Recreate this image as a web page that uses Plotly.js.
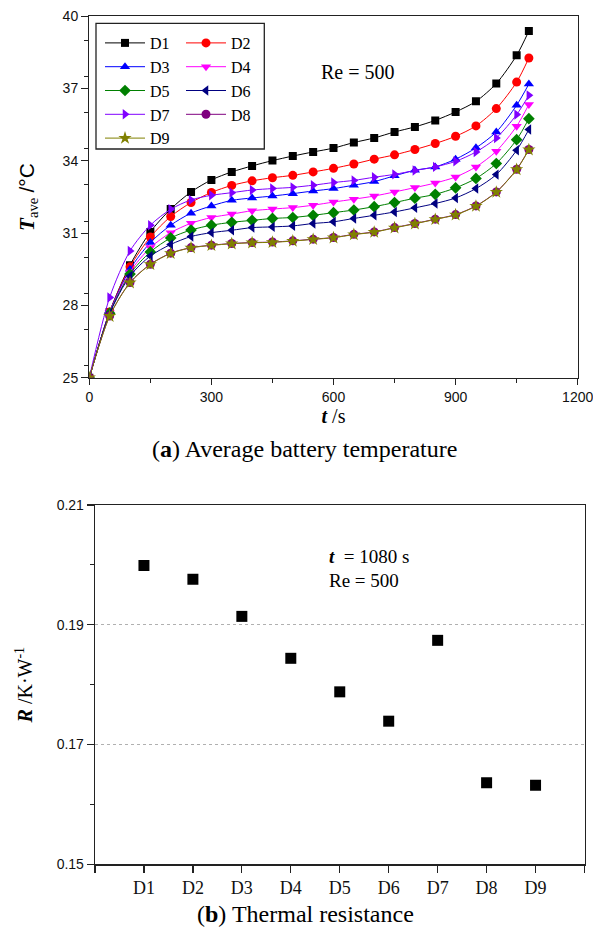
<!DOCTYPE html>
<html><head><meta charset="utf-8">
<script src="https://cdn.plot.ly/plotly-3.0.1.min.js"></script>
<style>html,body{margin:0;padding:0;background:#fff}#chart{width:593px;height:938px}</style>
</head><body><div id="chart"></div>
<script>
// ---- data: average battery temperature (Re = 500) ----
const timeS = [0,50,100,150,200,250,300,350,400,450,500,550,600,650,700,750,800,850,900,950,1000,1050,1080];
const tD1 = [25,27.73,29.67,31.05,32.00,32.71,33.21,33.54,33.79,34.01,34.20,34.37,34.53,34.76,34.95,35.20,35.41,35.68,36.03,36.47,37.21,38.38,39.39];
const tD2 = [25,27.73,29.60,30.84,31.69,32.27,32.69,32.98,33.17,33.30,33.40,33.54,33.69,33.87,34.07,34.25,34.47,34.72,35.02,35.45,36.17,37.27,38.27];
const tD3 = [25,27.72,29.50,30.61,31.33,31.83,32.13,32.36,32.46,32.54,32.64,32.75,32.85,32.99,33.14,33.38,33.61,33.75,34.07,34.54,35.20,36.31,37.19];
const tD4 = [25,27.70,29.39,30.40,31.02,31.41,31.65,31.79,31.93,32.00,32.06,32.16,32.29,32.41,32.54,32.71,32.89,33.08,33.33,33.75,34.40,35.44,36.34];
const tD5 = [25,27.68,29.30,30.22,30.80,31.13,31.33,31.45,31.53,31.61,31.65,31.74,31.85,31.96,32.10,32.27,32.45,32.61,32.88,33.27,33.89,34.88,35.75];
const tD6 = [25,27.66,29.22,30.05,30.53,30.86,31.02,31.12,31.23,31.26,31.30,31.40,31.47,31.61,31.74,31.88,32.05,32.23,32.46,32.85,33.43,34.44,35.30];
const tD7 = [25,28.33,30.26,31.33,31.99,32.38,32.57,32.68,32.79,32.85,32.90,32.99,33.10,33.19,33.32,33.44,33.60,33.75,33.98,34.37,34.95,35.92,36.72];
const tD8 = [25,27.56,28.95,29.71,30.17,30.40,30.50,30.57,30.61,30.63,30.68,30.75,30.82,30.95,31.05,31.23,31.40,31.58,31.77,32.13,32.71,33.65,34.47];
const tD9 = [25,27.55,28.94,29.70,30.16,30.39,30.49,30.56,30.60,30.62,30.67,30.74,30.81,30.94,31.04,31.22,31.39,31.57,31.76,32.12,32.70,33.64,34.46];
const seriesNames = ['D1','D2','D3','D4','D5','D6','D7','D8','D9'];
const seriesValues = [tD1,tD2,tD3,tD4,tD5,tD6,tD7,tD8,tD9];

// ---- data: thermal resistance at t = 1080 s ----
const designs = ['D1','D2','D3','D4','D5','D6','D7','D8','D9'];
const resistance = [0.1999,0.1976,0.1914,0.1844,0.1788,0.1739,0.1874,0.1636,0.1632];

// ---- tick labels ----
const xTicksA = [0,300,600,900,1200];
const yTicksA = [25,28,31,34,37,40];
const yTicksB = [0.15,0.17,0.19,0.21];

// ---- styles ----
const colors = ['#000000','#ff0000','#0000ff','#ff00ff','#008000','#000080','#8000ff','#800080','#808000'];
const symbols = ['square','circle','triangle-up','triangle-down','diamond','triangle-left','triangle-right','circle','star'];
const msizes = [8,9,9,9,9,9,9,9,10];
const SANS = 'Liberation Sans, Arial, sans-serif';
const SERIF = 'Liberation Serif, Times New Roman, serif';

const traces = seriesValues.map((vals, i) => ({
  type: 'scatter', mode: 'lines+markers',
  x: timeS, y: vals, name: seriesNames[i],
  xaxis: 'x', yaxis: 'y',
  line: {color: colors[i], width: 1, shape: 'spline', smoothing: 0.8},
  marker: {color: colors[i], symbol: symbols[i], size: msizes[i]},
  legend: (i % 2 === 0) ? 'legend' : 'legend2'
}));

traces.push({
  type: 'scatter', mode: 'markers',
  x: designs.map((d, i) => i + 1), y: resistance,
  xaxis: 'x2', yaxis: 'y2', showlegend: false,
  marker: {color: '#000', symbol: 'square', size: 11}
});

const W = 593, H = 938;
const px = v => v / W, py = v => 1 - v / H;

const axisLine = {showline: true, linecolor: '#222', linewidth: 1.3, mirror: true, zeroline: false, showgrid: false};

const legendCommon = {
  xanchor: 'left', yanchor: 'top',
  bgcolor: 'rgba(0,0,0,0)', borderwidth: 0, tracegroupgap: 0, itemwidth: 40,
  font: {family: SERIF, size: 16, color: '#000'}
};

const layout = {
  width: W, height: H,
  margin: {l: 0, r: 0, t: 0, b: 0},
  paper_bgcolor: '#fff', plot_bgcolor: '#fff',
  showlegend: true,
  font: {family: SANS, color: '#000', size: 14},
  xaxis: Object.assign({}, axisLine, {
    domain: [px(89.3), px(577.7)], anchor: 'y',
    range: [0, 1200], tickvals: xTicksA, ticks: 'outside', ticklen: 6, tickwidth: 1.2, tickcolor: '#222',
    ticklabeloverflow: 'allow',
    minor: {dtick: 150, ticks: 'outside', ticklen: 4, tickwidth: 1, tickcolor: '#222', showgrid: false},
    tickfont: {family: SANS, size: 14, color: '#111'},
    title: {text: '<b><i>t</i></b> /s', font: {family: SERIF, size: 20, color: '#000'}, standoff: 2}
  }),
  yaxis: Object.assign({}, axisLine, {
    domain: [py(377.7), py(16.3)], anchor: 'x',
    range: [25, 40], tickvals: yTicksA, ticks: 'outside', ticklen: 7, tickwidth: 1.2, tickcolor: '#222',
    minor: {dtick: 1.5, ticks: 'outside', ticklen: 4, tickwidth: 1, tickcolor: '#222', showgrid: false},
    tickfont: {family: SANS, size: 14, color: '#111'},
    title: {text: '<b><i>T</i></b><sub>ave</sub> <span style="font-family:Liberation Sans">/°C</span>', font: {family: SERIF, size: 21, color: '#000'}, standoff: 22}
  }),
  xaxis2: Object.assign({}, axisLine, {
    domain: [px(95), px(584.5)], anchor: 'y2',
    range: [0, 10], tickvals: designs.map((d, i) => i + 1), ticktext: designs,
    ticks: 'outside', ticklen: 7, tickwidth: 1.2, tickcolor: '#222',
    minor: {tick0: 0, dtick: 1, ticks: 'outside', ticklen: 7, tickwidth: 1.2, tickcolor: '#222', showgrid: false},
    tickfont: {family: SERIF, size: 18, color: '#111'}
  }),
  yaxis2: Object.assign({}, axisLine, {
    domain: [py(864.3), py(505)], anchor: 'x2',
    range: [0.15, 0.21], tickvals: yTicksB, ticks: 'outside', ticklen: 7, tickwidth: 1.2, tickcolor: '#222',
    showgrid: true, gridcolor: '#b0b0b0', griddash: 'dot', gridwidth: 1,
    minor: {dtick: 0.01, ticks: 'outside', ticklen: 4, tickwidth: 1, tickcolor: '#222', showgrid: false},
    tickfont: {family: SANS, size: 14, color: '#111'},
    title: {text: '<b><i>R</i></b> /K·W<sup>-1</sup>', font: {family: SERIF, size: 20, color: '#000'}, standoff: 18}
  }),
  legend: Object.assign({}, legendCommon, {x: px(100), y: py(26)}),
  legend2: Object.assign({}, legendCommon, {x: px(181), y: py(26)}),
  shapes: [{
    type: 'rect', xref: 'paper', yref: 'paper',
    x0: px(96), x1: px(264.3), y0: py(149), y1: py(23.3),
    line: {color: '#222', width: 1.3}, fillcolor: 'rgba(0,0,0,0)'
  }],
  annotations: [
    {xref: 'paper', yref: 'paper', x: px(358), y: py(72), text: 'Re = 500', showarrow: false,
     xanchor: 'center', yanchor: 'middle', font: {family: SERIF, size: 20, color: '#000'}},
    {xref: 'paper', yref: 'paper', x: px(327), y: py(556.7), text: '<b><i>t</i></b>  = 1080 s', showarrow: false,
     xanchor: 'left', yanchor: 'middle', font: {family: SERIF, size: 19, color: '#000'}},
    {xref: 'paper', yref: 'paper', x: px(327), y: py(580), text: 'Re = 500', showarrow: false,
     xanchor: 'left', yanchor: 'middle', font: {family: SERIF, size: 19, color: '#000'}},
    {xref: 'paper', yref: 'paper', x: px(304), y: py(449), text: '(<b>a</b>) Average battery temperature', showarrow: false,
     xanchor: 'center', yanchor: 'middle', font: {family: SERIF, size: 24, color: '#000'}},
    {xref: 'paper', yref: 'paper', x: px(305), y: py(914), text: '(<b>b</b>) Thermal resistance', showarrow: false,
     xanchor: 'center', yanchor: 'middle', font: {family: SERIF, size: 24, color: '#000'}}
  ]
};

Plotly.newPlot('chart', traces, layout, {staticPlot: true, displayModeBar: false});
</script>
</body></html>
